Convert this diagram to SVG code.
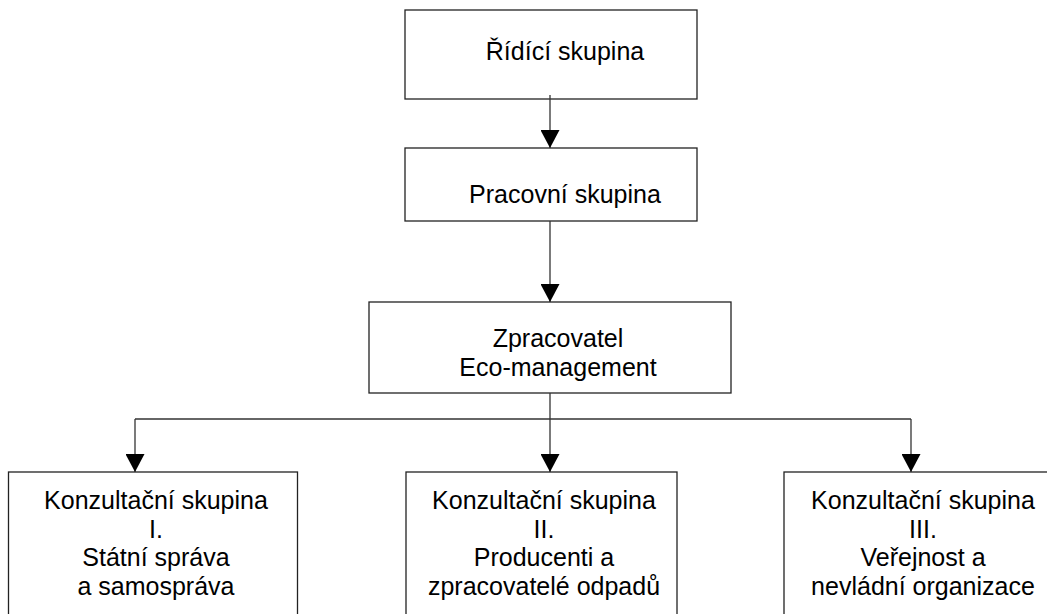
<svg xmlns="http://www.w3.org/2000/svg" width="1047" height="614" viewBox="0 0 1047 614">
<style>
.box{fill:#fff;stroke:#222;stroke-width:1.3}
.t{font-family:"Liberation Sans",Arial,sans-serif;font-size:25px;fill:#000;text-anchor:middle}
.c{fill:none;stroke:#333;stroke-width:1.3}
</style>
<defs>
<marker id="ah" markerWidth="18" markerHeight="19" refX="18" refY="9.5" orient="auto" markerUnits="userSpaceOnUse" viewBox="0 0 18 19">
<path d="M0 0 L18 9.5 L0 19 Z" fill="#000"/>
</marker>
</defs>
<rect width="1047" height="614" fill="#fff"/>
<g id="n1">
<rect class="box" x="405" y="10" width="292" height="89"/>
<text class="t" x="565" y="60">Řídící skupina</text>
</g>
<g id="n2">
<rect class="box" x="405" y="148" width="292" height="73"/>
<text class="t" x="565" y="203">Pracovní skupina</text>
</g>
<g id="n3">
<rect class="box" x="369" y="302" width="362" height="91"/>
<text class="t" x="558" y="347">Zpracovatel</text>
<text class="t" x="558" y="376">Eco-management</text>
</g>
<g id="n4">
<rect class="box" x="8.5" y="472" width="289" height="160"/>
<text class="t" x="156" y="509">Konzultační skupina</text>
<text class="t" x="156" y="538">I.</text>
<text class="t" x="156" y="566">Státní správa</text>
<text class="t" x="156" y="595">a samospráva</text>
</g>
<g id="n5">
<rect class="box" x="406" y="472" width="271" height="160"/>
<text class="t" x="544" y="509">Konzultační skupina</text>
<text class="t" x="544" y="538">II.</text>
<text class="t" x="544" y="566">Producenti a</text>
<text class="t" x="544" y="595">zpracovatelé odpadů</text>
</g>
<g id="n6">
<rect class="box" x="784" y="472" width="280" height="160"/>
<text class="t" x="923" y="509">Konzultační skupina</text>
<text class="t" x="923" y="538">III.</text>
<text class="t" x="923" y="566">Veřejnost a</text>
<text class="t" x="923" y="595">nevládní organizace</text>
</g>
<g id="connectors">
<line class="c" x1="550" y1="95" x2="550" y2="148" marker-end="url(#ah)"/>
<line class="c" x1="550" y1="221" x2="550" y2="302" marker-end="url(#ah)"/>
<line class="c" x1="550" y1="393" x2="550" y2="419"/>
<line class="c" x1="135" y1="419" x2="911" y2="419"/>
<line class="c" x1="135" y1="419" x2="135" y2="472" marker-end="url(#ah)"/>
<line class="c" x1="550" y1="419" x2="550" y2="472" marker-end="url(#ah)"/>
<line class="c" x1="911" y1="419" x2="911" y2="472" marker-end="url(#ah)"/>
</g>
</svg>
